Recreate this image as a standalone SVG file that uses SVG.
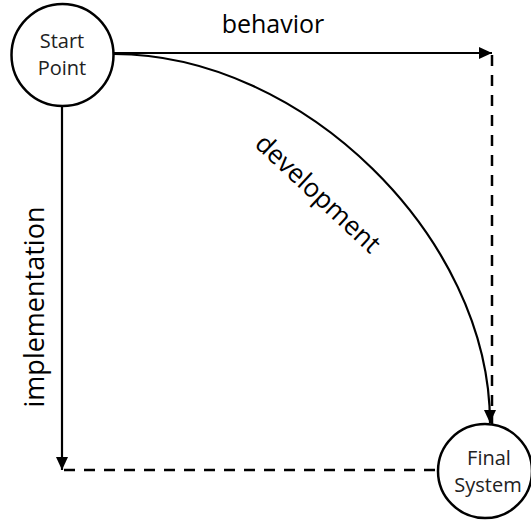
<svg xmlns="http://www.w3.org/2000/svg" width="531" height="523" viewBox="0 0 531 523">
<style>
.node circle{fill:#fff;stroke:#000;stroke-width:2.5}
.nt{font-family:"Open Sans","Liberation Sans",sans-serif;font-size:20px;fill:#222;text-anchor:middle}
.lbl{font-family:"Open Sans","Liberation Sans",sans-serif;font-size:25px;fill:#000;text-anchor:middle}
.solid{fill:none;stroke:#000;stroke-width:2.2}
.dash{fill:none;stroke:#000;stroke-width:2.5;stroke-dasharray:11 9}
</style>
<defs>
<marker id="arr" markerUnits="userSpaceOnUse" markerWidth="14" markerHeight="14" viewBox="0 0 14 14" refX="13" refY="7" orient="auto">
<path d="M0,1 L13,7 L0,13 Z" fill="#000"/>
</marker>
</defs>
<g id="connectors">
<line class="solid" x1="114" y1="53" x2="492" y2="53" marker-end="url(#arr)"/>
<line class="solid" x1="62" y1="106" x2="62" y2="470" marker-end="url(#arr)"/>
<path class="solid" d="M114,54 C302,54 490,237 490,423" marker-end="url(#arr)"/>
<line class="dash" x1="492" y1="55" x2="492" y2="424"/>
<line class="dash" x1="64" y1="470" x2="439" y2="470"/>
<text class="lbl" x="273" y="33">behavior</text>
<text class="lbl" style="font-size:27px" transform="translate(44,307) rotate(-90)">implementation</text>
<text class="lbl" style="font-size:26px" transform="translate(312,200) rotate(43)">development</text>
</g>
<g id="start" class="node">
<circle cx="62.5" cy="55" r="51"/>
<text class="nt" x="62" y="48">Start</text>
<text class="nt" x="62" y="75">Point</text>
</g>
<g id="final" class="node">
<circle cx="485" cy="471" r="47"/>
<text class="nt" x="489" y="465">Final</text>
<text class="nt" x="488" y="492">System</text>
</g>
</svg>
